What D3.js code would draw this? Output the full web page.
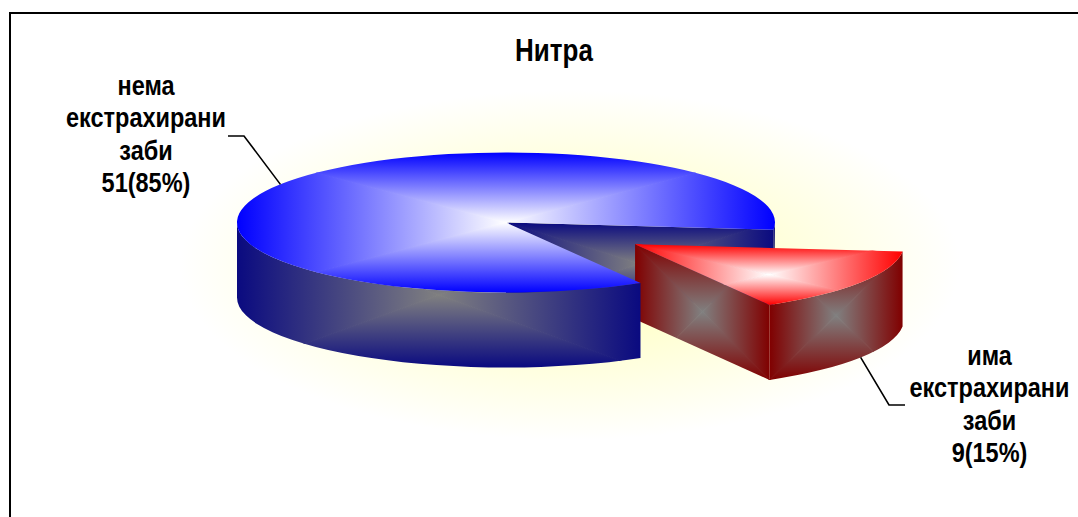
<!DOCTYPE html>
<html>
<head>
<meta charset="utf-8">
<script src="https://cdn.jsdelivr.net/npm/d3@7"></script>
<style>
  html, body { margin: 0; padding: 0; background: #ffffff; }
  svg { display: block; }
</style>
</head>
<body>
<svg id="chart" width="1078" height="517"></svg>
<script>
// ---- data ----
const title = "Нитра";
const categories = ["нема екстрахирани заби", "има екстрахирани заби"];
const values = [51, 9];
const explodeBy = [0, 0.572];

// ---- layout & style ----
const W = 1078, H = 517;
const CX = 506, CY = 222.5, RX = 269, RY = 70, DEPTH = 75;
const START = 150 * Math.PI / 180;
const topEdge = ["#0000ff", "#ff0000"];
const sideEdge = ["#0a0a80", "#800000"];
const TOP_CENTER = "#ffffff", SIDE_CENTER = "#808080";
const FONT = "'Liberation Sans', Arial, sans-serif";
const LABEL_SIZE = 23.5, LABEL_SY = 1.2, LINE_STEP = 32.5;
const TITLE_SIZE = 26;
const labelPos = [{ x: 146, y: 95 }, { x: 989.5, y: 365 }];
const leaderElbow = [{ x: 244, y: 136, endX: 228 }, { x: 889, y: 405, endX: 905 }];

const svg = d3.select("#chart");
const defs = svg.append("defs");
let uid = 0;

// soft yellow glow behind the pie
const bg = defs.append("radialGradient").attr("id", "glow")
  .attr("cx", 0.5).attr("cy", 0.5).attr("r", 0.5);
bg.append("stop").attr("offset", 0).attr("stop-color", "#ffffb0");
bg.append("stop").attr("offset", 1).attr("stop-color", "#ffffff");
svg.append("rect").attr("width", W).attr("height", H).attr("fill", "#ffffff");
svg.append("rect").attr("x", 180).attr("y", 90).attr("width", 780).attr("height", 350)
  .attr("fill", "url(#glow)");

// ---- geometry helpers ----
const pt = (a, ox, oy, dz = 0, r = 1) =>
  [CX + ox + RX * r * Math.sin(a), CY + oy - RY * r * Math.cos(a) + dz];
const f = p => p[0].toFixed(2) + "," + p[1].toFixed(2);

function topPath(a0, a1, ox, oy) {
  const c = [CX + ox, CY + oy];
  const large = (a1 - a0) > Math.PI ? 1 : 0;
  return `M${f(c)}L${f(pt(a0, ox, oy))}A${RX},${RY} 0 ${large} 1 ${f(pt(a1, ox, oy))}Z`;
}
function wallPath(s, e, ox, oy) {
  const large = (e - s) > Math.PI ? 1 : 0;
  return `M${f(pt(s, ox, oy))}A${RX},${RY} 0 ${large} 1 ${f(pt(e, ox, oy))}` +
    `L${f(pt(e, ox, oy, DEPTH))}A${RX},${RY} 0 ${large} 0 ${f(pt(s, ox, oy, DEPTH))}Z`;
}
function radialPath(a, ox, oy) {
  const c = [CX + ox, CY + oy];
  const c2 = [CX + ox, CY + oy + DEPTH];
  return `M${f(c)}L${f(pt(a, ox, oy))}L${f(pt(a, ox, oy, DEPTH))}L${f(c2)}Z`;
}

// rectangular "from centre" shading: four triangles, each with a linear ramp
function shadedFace(parent, d, inner, outer) {
  const id = "clip" + (uid++);
  defs.append("clipPath").attr("id", id).append("path").attr("d", d);
  const tmp = parent.append("path").attr("d", d);
  const bb = tmp.node().getBBox();
  tmp.remove();
  const x0 = bb.x, y0 = bb.y, x1 = bb.x + bb.width, y1 = bb.y + bb.height;
  const mx = (x0 + x1) / 2, my = (y0 + y1) / 2;
  const g = parent.append("g").attr("clip-path", `url(#${id})`);
  const parts = [
    { pts: [[x0 - 1, y0 - 1], [mx, my], [x0 - 1, y1 + 1]], to: [x0, my] },
    { pts: [[x1 + 1, y0 - 1], [mx, my], [x1 + 1, y1 + 1]], to: [x1, my] },
    { pts: [[x0 - 1, y0 - 1], [mx, my], [x1 + 1, y0 - 1]], to: [mx, y0] },
    { pts: [[x0 - 1, y1 + 1], [mx, my], [x1 + 1, y1 + 1]], to: [mx, y1] }
  ];
  parts.forEach(p => {
    const gid = "grad" + (uid++);
    const lg = defs.append("linearGradient").attr("id", gid)
      .attr("gradientUnits", "userSpaceOnUse")
      .attr("x1", mx).attr("y1", my).attr("x2", p.to[0]).attr("y2", p.to[1]);
    lg.append("stop").attr("offset", 0).attr("stop-color", inner);
    lg.append("stop").attr("offset", 1).attr("stop-color", outer);
    g.append("polygon").attr("points", p.pts.map(q => q.join(",")).join(" "))
      .attr("fill", `url(#${gid})`).attr("stroke", `url(#${gid})`).attr("stroke-width", 1);
  });
}

// ---- pie layout ----
const total = d3.sum(values);
const arcs = d3.pie().sort(null).value(d => d)
  .startAngle(START).endAngle(START + 2 * Math.PI)(values);

const slices = arcs.map((a, i) => {
  const mid = (a.startAngle + a.endAngle) / 2;
  const ox = explodeBy[i] * RX * Math.sin(mid);
  const oy = -explodeBy[i] * RY * Math.cos(mid);
  const front = -explodeBy[i] * Math.cos(mid);
  return { i, a0: a.startAngle, a1: a.endAngle, mid, ox, oy, front, value: a.data };
});

// visible side faces, painted back to front
const faces = [];
slices.forEach(s => {
  for (let k = -1; k <= 2; k++) {
    const lo = Math.max(s.a0, Math.PI / 2 + 2 * Math.PI * k);
    const hi = Math.min(s.a1, 3 * Math.PI / 2 + 2 * Math.PI * k);
    if (hi > lo) {
      const m = (lo + hi) / 2;
      faces.push({ s, d: wallPath(lo, hi, s.ox, s.oy), key: s.front - Math.cos(m) });
    }
  }
  if (Math.sin(s.a0) < 0)
    faces.push({ s, d: radialPath(s.a0, s.ox, s.oy), key: s.front - 0.5 * Math.cos(s.a0) });
  if (Math.sin(s.a1) > 0)
    faces.push({ s, d: radialPath(s.a1, s.ox, s.oy), key: s.front - 0.5 * Math.cos(s.a1) });
});
faces.sort((a, b) => a.key - b.key);

const pie = svg.append("g");
faces.forEach(fc => shadedFace(pie, fc.d, SIDE_CENTER, sideEdge[fc.s.i]));
slices.slice().sort((a, b) => a.front - b.front)
  .forEach(s => shadedFace(pie, topPath(s.a0, s.a1, s.ox, s.oy), TOP_CENTER, topEdge[s.i]));

// ---- title ----
svg.append("text")
  .attr("transform", `translate(554,61) scale(1,${LABEL_SY})`)
  .attr("text-anchor", "middle")
  .attr("font-family", FONT).attr("font-weight", "bold").attr("font-size", TITLE_SIZE)
  .attr("fill", "#000").text(title);

// ---- labels with leader lines ----
slices.forEach(s => {
  const frontSide = Math.cos(s.mid) < 0;
  const anchor = pt(s.mid, s.ox, s.oy, frontSide ? DEPTH : 0);
  const el = leaderElbow[s.i];
  svg.append("path")
    .attr("d", `M${f(anchor)}L${el.x},${el.y}L${el.endX},${el.y}`)
    .attr("fill", "none").attr("stroke", "#000").attr("stroke-width", 1.6);

  const pct = Math.round(s.value / total * 100);
  const lines = categories[s.i].split(" ").concat([`${s.value}(${pct}%)`]);
  const lp = labelPos[s.i];
  const t = svg.append("text")
    .attr("transform", `translate(${lp.x},${lp.y}) scale(1,${LABEL_SY})`)
    .attr("text-anchor", "middle")
    .attr("font-family", FONT).attr("font-weight", "bold").attr("font-size", LABEL_SIZE)
    .attr("fill", "#000");
  lines.forEach((ln, j) => {
    t.append("tspan").attr("x", 0).attr("y", j * LINE_STEP / LABEL_SY).text(ln);
  });
});

// ---- chart frame ----
svg.append("rect").attr("x", 10).attr("y", 13).attr("width", 1100).attr("height", 600)
  .attr("fill", "none").attr("stroke", "#000").attr("stroke-width", 2);
</script>
</body>
</html>
